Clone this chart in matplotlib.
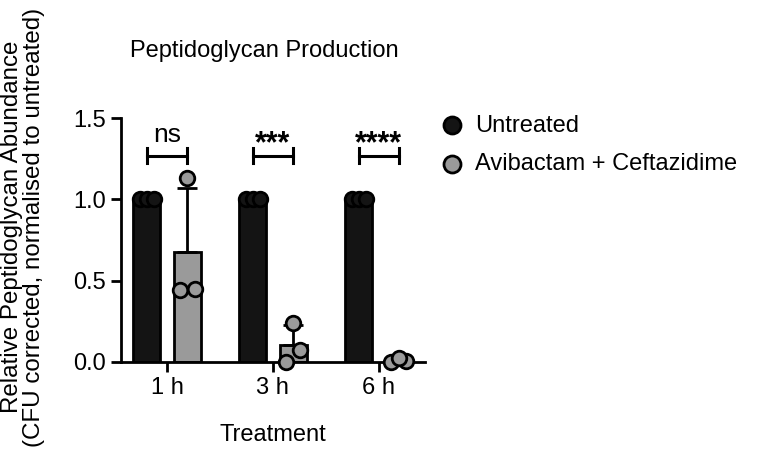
import matplotlib.pyplot as plt
import numpy as np

plt.rcParams['font.family'] = ['Liberation Sans', 'DejaVu Sans']

times = ["1 h", "3 h", "6 h"]
untreated = [[1.0, 1.0, 1.0], [1.0, 1.0, 1.0], [1.0, 1.0, 1.0]]
treated = [[0.44, 0.45, 1.13], [0.0, 0.07, 0.24], [0.0, 0.005, 0.025]]
stars = ["ns", "***", "****"]

black = "#141414"
grey = "#9a9a9a"
fs = 17

fig = plt.figure(figsize=(7.57, 4.58), dpi=100)
ax = fig.add_axes([0.16, 0.21, 0.401, 0.532])

x = np.arange(len(times))
off = 0.19
w = 0.255
jit = np.array([-0.065, 0.0, 0.065])

for i in range(len(times)):
    u = np.array(untreated[i])
    t = np.array(treated[i])
    ax.bar(x[i] - off, u.mean(), w, color=black, edgecolor="black", linewidth=2, zorder=2)
    ax.bar(x[i] + off, t.mean(), w, color=grey, edgecolor="black", linewidth=2, zorder=2)
    sd = t.std(ddof=1)
    ax.errorbar(x[i] + off, t.mean(), yerr=[[0], [sd]], color="black", capsize=7,
                elinewidth=2, capthick=2, zorder=3)
    ax.scatter(x[i] - off + jit, u, s=110, color=black, edgecolor="black",
               linewidth=2, zorder=4, clip_on=False)
    ax.scatter(x[i] + off + np.array([-0.07, 0.07, 0.0]), np.sort(t), s=110, color=grey,
               edgecolor="black", linewidth=2, zorder=4, clip_on=False)
    # significance bracket
    yb = 1.27
    ax.plot([x[i] - off, x[i] + off], [yb, yb], color="black", lw=2.2, clip_on=False)
    for xe in (x[i] - off, x[i] + off):
        ax.plot([xe, xe], [yb - 0.045, yb + 0.045], color="black", lw=2.2, clip_on=False)
    if i == 0:
        ax.text(x[i], yb + 0.085, stars[i], ha="center", va="baseline", fontsize=19)
    else:
        ax.text(x[i], yb + 0.02, stars[i], ha="center", va="baseline", fontsize=22,
                fontweight="bold")

ax.set_xlim(-0.434, 2.434)
ax.set_ylim(0, 1.5)
ax.set_yticks([0, 0.5, 1.0, 1.5])
ax.set_yticklabels(["0.0", "0.5", "1.0", "1.5"])
ax.set_xticks(x)
ax.set_xticklabels(times)
ax.tick_params(labelsize=fs, width=2, length=7, pad=4)
for s in ["top", "right"]:
    ax.spines[s].set_visible(False)
for s in ["left", "bottom"]:
    ax.spines[s].set_linewidth(2)

ax.set_xlabel("Treatment", fontsize=fs, labelpad=18)
ax.set_ylabel("Relative Peptidoglycan Abundance\n(CFU corrected, normalised to untreated)",
              fontsize=17.4, linespacing=1.0)
ax.yaxis.set_label_coords(-0.25, 0.553)
ax.set_title("Peptidoglycan Production", fontsize=fs, loc="left", x=0.03, pad=44)

h1 = ax.scatter([], [], s=150, color=black, edgecolor="black", linewidth=2)
h2 = ax.scatter([], [], s=150, color=grey, edgecolor="black", linewidth=2)
fig.legend([h1, h2], ["Untreated", "Avibactam + Ceftazidime"], loc="upper left",
           bbox_to_anchor=(0.553, 0.796), frameon=False, fontsize=fs,
           handlelength=1.0, handletextpad=0.5, labelspacing=0.69)

fig.savefig("out.png", dpi=100)
